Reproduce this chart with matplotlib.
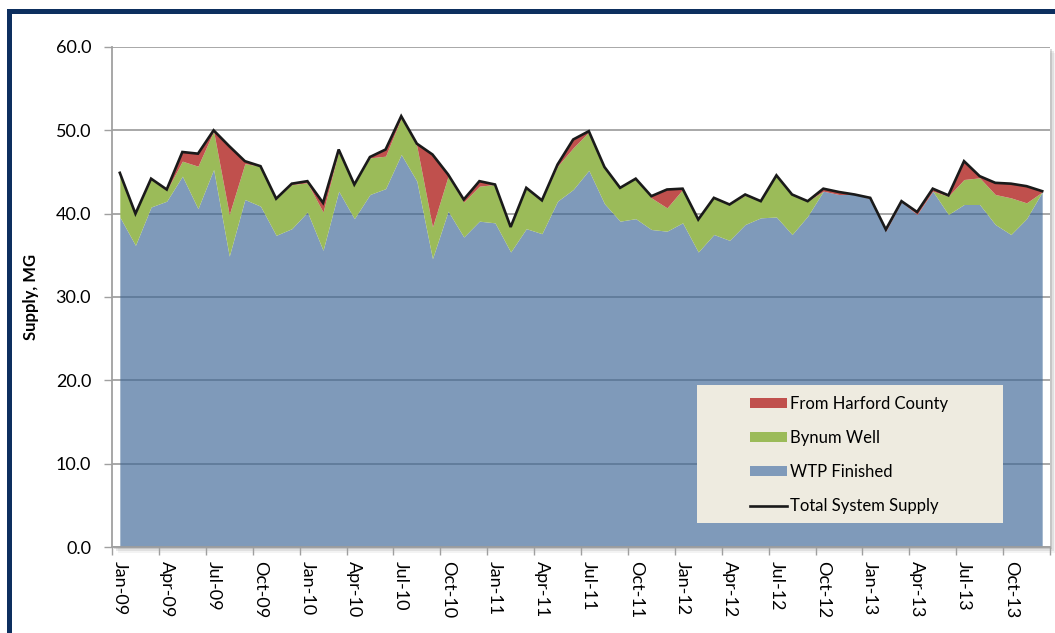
import matplotlib
matplotlib.use("Agg")
import matplotlib.pyplot as plt
import numpy as np
import pandas as pd
from matplotlib.patches import Rectangle, Patch
from matplotlib.lines import Line2D

# Monthly supply components, million gallons (Jan 2009 - Dec 2013)
months = pd.date_range("2009-01-01", periods=60, freq="MS")

wtp_finished = [
    39.6, 36.2, 40.8, 41.5, 44.5, 40.6, 45.3, 34.9, 41.7, 40.9, 37.4, 38.2,
    40.2, 35.6, 42.7, 39.4, 42.3, 43.0, 47.1, 43.9, 34.6, 40.3, 37.2, 39.1,
    38.9, 35.4, 38.2, 37.6, 41.5, 42.9, 45.2, 41.2, 39.1, 39.4, 38.1, 37.9,
    38.9, 35.4, 37.5, 36.8, 38.7, 39.5, 39.6, 37.5, 39.7, 42.7, 42.3, 42.3,
    41.8, 37.9, 41.4, 39.9, 42.7, 39.9, 41.1, 41.1, 38.7, 37.5, 39.4, 42.6,
]
bynum_well = [
    5.1, 3.8, 3.3, 1.3, 1.8, 5.1, 4.6, 5.0, 4.3, 4.8, 4.4, 5.3,
    3.5, 4.6, 4.8, 4.1, 4.4, 3.9, 4.4, 4.2, 3.8, 4.2, 4.2, 4.2,
    4.6, 3.0, 4.9, 4.0, 4.2, 5.0, 4.6, 4.4, 4.0, 4.8, 3.8, 2.8,
    4.0, 3.9, 4.4, 4.3, 3.5, 2.0, 5.0, 4.8, 1.8, 0.0, 0.0, 0.0,
    0.0, 0.0, 0.0, 0.0, 0.0, 2.2, 3.0, 3.2, 3.6, 4.4, 1.9, 0.0,
]
from_harford = [
    0.2, 0.0, 0.1, 0.1, 1.1, 1.5, 0.1, 8.2, 0.3, 0.0, 0.0, 0.1,
    0.2, 1.1, 0.2, 0.0, 0.1, 0.8, 0.2, 0.3, 8.7, 0.2, 0.3, 0.6,
    0.0, 0.0, 0.0, 0.0, 0.2, 1.0, 0.1, 0.0, 0.0, 0.0, 0.2, 2.2,
    0.1, 0.0, 0.0, 0.0, 0.1, 0.0, 0.0, 0.0, 0.0, 0.3, 0.3, 0.0,
    0.1, 0.2, 0.1, 0.3, 0.3, 0.1, 2.2, 0.2, 1.4, 1.7, 2.0, 0.1,
]
tick_labels = [
    "Jan-09", "Apr-09", "Jul-09", "Oct-09", "Jan-10", "Apr-10", "Jul-10",
    "Oct-10", "Jan-11", "Apr-11", "Jul-11", "Oct-11", "Jan-12", "Apr-12",
    "Jul-12", "Oct-12", "Jan-13", "Apr-13", "Jul-13", "Oct-13",
]
y_ticks = [0, 10, 20, 30, 40, 50, 60]

wtp = np.array(wtp_finished)
byn = np.array(bynum_well)
har = np.array(from_harford)
total = wtp + byn + har
x = np.arange(len(months))

plt.rcParams["font.family"] = ["Lato", "DejaVu Sans"]

W, H = 1055, 633
fig = plt.figure(figsize=(W / 100, H / 100), dpi=100)
fig.patch.set_facecolor("white")

L, R, T, B = 112, 1050, 47, 547
ax = fig.add_axes([L / W, 1 - B / H, (R - L) / W, (B - T) / H])

# soft drop shadow under the plot area
for off, a in [(6, 0.10), (4, 0.18), (2, 0.30)]:
    fig.patches.append(Rectangle(((L + off) / W, 1 - (B + off) / H),
                                 (R - L) / W, (B - T) / H,
                                 transform=fig.transFigure, facecolor="#8a8a8a",
                                 edgecolor="none", alpha=a, zorder=-2))

# dark outer frame
fig.patches.append(Rectangle((8.5 / W, -0.2), 1.3, (1 - 10.5 / H) + 0.2,
                             transform=fig.transFigure, fill=False,
                             edgecolor="#0d2f5f", linewidth=3.6, zorder=10))

blue = "#3d6696"
green = "#9bbb59"
red = "#c0504d"

ax.fill_between(x, 0, wtp, color=blue, alpha=0.66, linewidth=0, zorder=2)
ax.fill_between(x, wtp, wtp + byn, color=green, linewidth=0, zorder=2)
ax.fill_between(x, wtp + byn, total, color=red, linewidth=0, zorder=2)
ax.plot(x, total, color="#1a1a1a", linewidth=1.9, zorder=4,
        solid_joinstyle="miter")

ax.set_xlim(-0.5, 59.5)
ax.set_ylim(0, 60)
ax.set_yticks(y_ticks)
ax.set_yticklabels([f"{v:.1f}" for v in y_ticks])
ax.yaxis.grid(True, color="#a1a1a1", linewidth=1.3, zorder=1)
ax.set_axisbelow(True)

# tick marks between categories, labels on every third month
ax.set_xticks(np.arange(-0.5, 60, 3))
ax.set_xticklabels([])
ax.set_xticks(np.arange(0, 60, 3), minor=True)
ax.set_xticklabels(tick_labels, minor=True, rotation=-90, fontsize=13)
ax.tick_params(axis="x", which="major", length=6, color="#a0a0a0", width=1)
ax.tick_params(axis="x", which="minor", length=0, pad=10)
ax.tick_params(axis="y", length=6, color="#a0a0a0", width=1, labelsize=13,
               pad=9)

for s in ["top", "right"]:
    ax.spines[s].set_visible(False)
for s in ["left", "bottom"]:
    ax.spines[s].set_color("#a0a0a0")
    ax.spines[s].set_linewidth(1.3)

ax.set_ylabel("Supply, MG", fontsize=12, fontweight="bold", labelpad=12)

# legend panel
ax.add_patch(Rectangle((0.624, 0.048), 0.326, 0.276, transform=ax.transAxes,
                       facecolor="#eeebe0", edgecolor="none", zorder=5))
handles = [
    Patch(facecolor=red, edgecolor="none", label="From Harford County"),
    Patch(facecolor=green, edgecolor="none", label="Bynum Well"),
    Patch(facecolor="#7f9aba", edgecolor="none", label="WTP Finished"),
    Line2D([], [], color="#1a1a1a", linewidth=1.9, label="Total System Supply"),
]
leg = ax.legend(handles=handles, loc="upper left", bbox_to_anchor=(0.680, 0.302),
                frameon=False, fontsize=12, handlelength=2.2, handleheight=0.55,
                handletextpad=0.2, labelspacing=1.08, borderpad=0,
                borderaxespad=0)
leg.set_zorder(6)

fig.savefig("out.png", dpi=100)
